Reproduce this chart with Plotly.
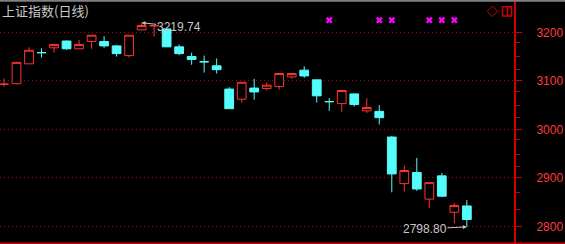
import plotly.graph_objects as go

# ---- data ----
opens  = [3093, 3094, 3135, 3158, 3168, 3182, 3166, 3181, 3181, 3172,
          3152, 3205, 3213, 3207, 3170, 3150, 3139.5, 3131, 3083, 3062,
          3085, 3084, 3088, 3108, 3122, 3102, 3057, 3053, 3073, 3038,
          3037, 2984, 2888, 2911, 2856, 2904, 2829, 2842]
highs  = [3105, 3139, 3169, 3167, 3176, 3183, 3184, 3194, 3192, 3174,
          3195, 3219.74, 3214.5, 3208, 3175, 3158, 3152, 3146, 3087, 3097.5,
          3104, 3097, 3116, 3116, 3130, 3102, 3064.5, 3081, 3073, 3064,
          3050, 2986, 2925, 2941, 2890, 2910, 2848, 2854]
lows   = [3088, 3093, 3135, 3148, 3158, 3164, 3166, 3166, 3168, 3150,
          3148, 3205, 3191, 3170, 3153, 3133, 3117, 3115, 3042, 3055,
          3061, 3080, 3082, 3104, 3106, 3055, 3038, 3036, 3047, 3034,
          3010, 2870, 2872, 2873, 2838, 2860, 2806, 2798.80]
closes = [3093, 3138, 3163, 3158, 3175, 3166, 3175, 3194, 3172, 3156,
          3194, 3214, 3214, 3170, 3156, 3144, 3139, 3123, 3042.5, 3097,
          3077, 3091, 3115, 3115, 3110, 3069, 3057, 3080, 3051, 3045,
          3024, 2908, 2915, 2877, 2890, 2862, 2843, 2814]
idx = list(range(len(opens)))

marker_idx = [26, 30, 31, 34, 35, 36]
MARK_LEVEL = 3225

y_ticks = [2800, 2900, 3000, 3100, 3200]
y_ticktext = [str(v) for v in y_ticks]
minor_ticks = [3178, 3151, 3124, 3078, 3050, 3024, 2978, 2949, 2923, 2869, 2835]

title_text = "上证指数(日线)"

# ---- colours ----
UP = "#ff3232"
DOWN = "#54fcfc"
GRID = "#b00000"
AXIS = "#d00000"
LABEL = "#ff3c3c"
GRAY = "#c8c8c8"

W, H = 565, 244
PLOT_R = 514  # pixel x of axis line

fig = go.Figure()
fig.add_trace(go.Candlestick(
    x=idx, open=opens, high=highs, low=lows, close=closes,
    increasing=dict(line=dict(color=UP, width=1), fillcolor="#000000"),
    decreasing=dict(line=dict(color=DOWN, width=1), fillcolor=DOWN),
    whiskerwidth=0, hoverinfo="skip", showlegend=False,
))
fig.add_trace(go.Scatter(
    x=marker_idx, y=[MARK_LEVEL] * len(marker_idx), mode="markers",
    marker=dict(symbol="x", size=6, color="#ff00ff", line=dict(width=0)),
    hoverinfo="skip", showlegend=False,
))

hi_i = max(idx, key=lambda i: highs[i])
lo_i = min(idx, key=lambda i: lows[i])

annotations = [
    dict(xref="paper", yref="paper", x=0, y=1 - 11 / H, xanchor="left", yanchor="middle",
         text=title_text, showarrow=False,
         font=dict(family="Noto Sans CJK SC", size=13, color=GRAY)),
    dict(x=idx[hi_i], y=highs[hi_i], text=f"{highs[hi_i]:.2f}", showarrow=True,
         ax=37, ay=4, arrowhead=2, arrowsize=0.8, arrowwidth=1, arrowcolor=GRAY,
         standoff=0, borderpad=0,
         font=dict(family="Liberation Sans", size=12, color=GRAY)),
    dict(x=idx[lo_i], y=lows[lo_i], text=f"{lows[lo_i]:.2f}", showarrow=True,
         ax=-42, ay=2, arrowhead=2, arrowsize=0.8, arrowwidth=1, arrowcolor=GRAY,
         standoff=0, borderpad=0,
         font=dict(family="Liberation Sans", size=12, color=GRAY)),
]

def px(x):
    return x / PLOT_R

def py(y):
    return 1 - y / H

shapes = [
    # top gray border
    dict(type="line", xref="paper", yref="paper", x0=0, x1=W / PLOT_R, y0=py(0.8), y1=py(0.8),
         line=dict(color="#808080", width=2)),
    # bottom red border
    dict(type="line", xref="paper", yref="paper", x0=0, x1=W / PLOT_R, y0=py(243.3), y1=py(243.3),
         line=dict(color=AXIS, width=1.5)),
    # diamond icon
    dict(type="path", xref="paper", yref="paper",
         path=f"M {px(492.5)},{py(6)} L {px(497.7)},{py(11.3)} L {px(492.5)},{py(16.7)} L {px(487.3)},{py(11.3)} Z",
         line=dict(color=AXIS, width=1)),
    # window icon
    dict(type="rect", xref="paper", yref="paper", x0=px(502.5), x1=px(511.5), y0=py(16), y1=py(6.7),
         line=dict(color=AXIS, width=1.5)),
    dict(type="line", xref="paper", yref="paper", x0=px(507.5), x1=px(507.5), y0=py(16), y1=py(6.7),
         line=dict(color=AXIS, width=1.5)),
]

fig.update_layout(
    width=W, height=H,
    margin=dict(l=0, r=W - PLOT_R, t=0, b=0, pad=0),
    paper_bgcolor="#000000", plot_bgcolor="#000000",
    showlegend=False, hovermode=False,
    boxgap=0.3, boxgroupgap=0,
    annotations=annotations, shapes=shapes,
    xaxis=dict(range=[-0.32, 40.77], showgrid=False, zeroline=False, showticklabels=False,
               ticks="", showline=False, rangeslider=dict(visible=False), fixedrange=True),
    yaxis=dict(range=[2763.5, 3266.6], side="right", tickvals=y_ticks, ticktext=y_ticktext,
               tickfont=dict(family="Liberation Sans", size=12, color=LABEL),
               ticks="outside", ticklen=6, tickwidth=1, tickcolor=AXIS,
               showline=True, linecolor=AXIS, linewidth=2,
               showgrid=True, gridcolor=GRID, gridwidth=1, griddash="1px,3px",
               zeroline=False, ticklabelstandoff=12, fixedrange=True,
               minor=dict(tickvals=minor_ticks, ticks="outside", ticklen=4, tickcolor=AXIS,
                          showgrid=False)),
)

fig.write_html("out.html")
